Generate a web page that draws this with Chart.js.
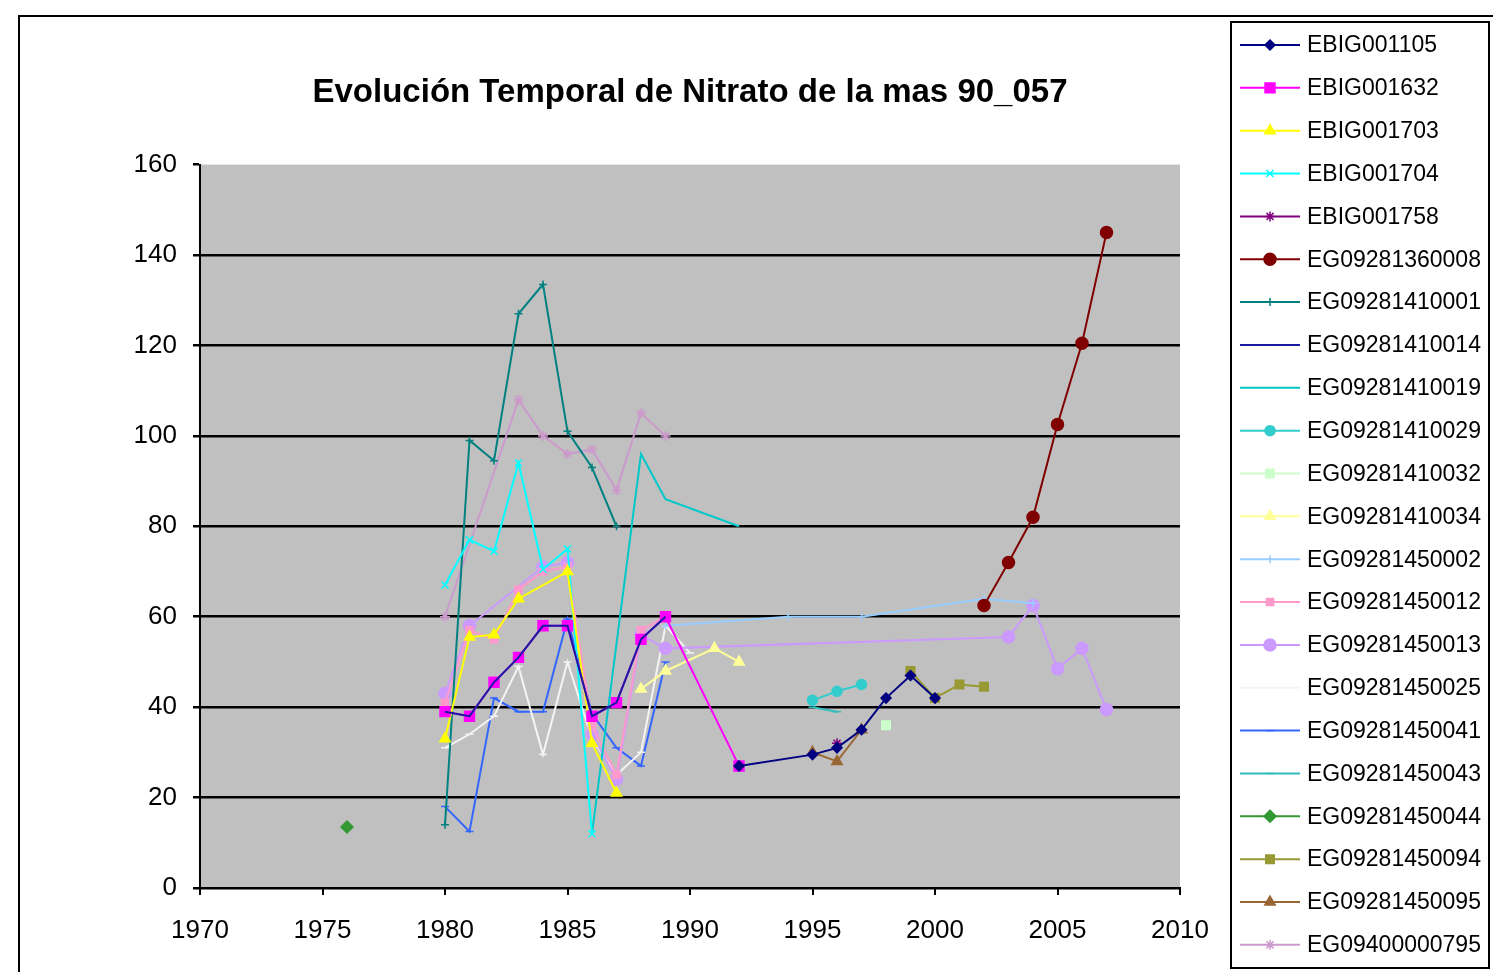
<!DOCTYPE html>
<html>
<head>
<meta charset="utf-8">
<script src="https://cdn.jsdelivr.net/npm/chart.js@4.4.1/dist/chart.umd.min.js"></script>
<style>
  html, body { margin: 0; padding: 0; background: #fff; }
  #wrap { width: 1493px; height: 972px; }
</style>
</head>
<body>
<div id="wrap"><canvas id="myChart" width="1493" height="972"></canvas></div>
<script>
// chart text + axes
const chartTitle = 'Evolución Temporal de Nitrato de la mas 90_057';
const xTicks = [1970, 1975, 1980, 1985, 1990, 1995, 2000, 2005, 2010];
const yTicks = [0, 20, 40, 60, 80, 100, 120, 140, 160];

// series names (legend order)
const seriesLabels = [
  'EBIG001105', 'EBIG001632', 'EBIG001703', 'EBIG001704', 'EBIG001758',
  'EG09281360008', 'EG09281410001', 'EG09281410014', 'EG09281410019',
  'EG09281410029', 'EG09281410032', 'EG09281410034', 'EG09281450002',
  'EG09281450012', 'EG09281450013', 'EG09281450025', 'EG09281450041',
  'EG09281450043', 'EG09281450044', 'EG09281450094', 'EG09281450095',
  'EG09400000795'
];

// years and nitrate values, one pair per series
const years1105 = [1992, 1995, 1996, 1997, 1998, 1999, 2000];
const vals1105  = [27, 29.5, 31, 35, 42, 47, 42];
const years1632 = [1980, 1981, 1982, 1983, 1984, 1985, 1986, 1987, 1988, 1989, 1992];
const vals1632  = [39, 38, 45.5, 51, 58, 58, 38, 41, 55, 60, 27];
const years1703 = [1980, 1981, 1982, 1983, 1985, 1986, 1987];
const vals1703  = [33, 55.5, 56, 64, 70, 32, 21];
const years1704 = [1980, 1981, 1982, 1983, 1984, 1985, 1986];
const vals1704  = [67, 77, 74.5, 94, 70.5, 75, 12];
const years1758 = [1996];
const vals1758  = [32];
const years360008 = [2002, 2003, 2004, 2005, 2006, 2007];
const vals360008  = [62.5, 72, 82, 102.5, 120.5, 145];
const years410001 = [1980, 1981, 1982, 1983, 1984, 1985, 1986, 1987];
const vals410001  = [14, 99, 94.5, 127, 133.5, 101, 93, 80];
const years410014 = [1980, 1981, 1982, 1983, 1984, 1985, 1986, 1987, 1988, 1989];
const vals410014  = [39, 38, 45.5, 51, 58, 58, 38, 41, 55, 60];
const years410019 = [1986, 1988, 1989, 1992];
const vals410019  = [12, 96, 86, 80];
const years410029 = [1995, 1996, 1997];
const vals410029  = [41.5, 43.5, 45];
const years410032 = [1998];
const vals410032  = [36];
const years410034 = [1988, 1989, 1991, 1992];
const vals410034  = [44, 48, 53, 50];
const years450002 = [1989, 1994, 1997, 2002, 2004];
const vals450002  = [58, 60, 60, 64, 63];
const years450012 = [1980, 1981, 1982, 1983, 1984, 1985, 1986, 1987, 1988, 1989];
const vals450012  = [41, 57, 55, 66, 70, 71, 36, 25, 57, 60];
const years450013 = [1980, 1981, 1984, 1985, 1986, 1987, 1988, 1989, 2003, 2004, 2005, 2006, 2007];
const vals450013  = [43, 58, 71, 72, 34, 24, 56, 53, 55.5, 62.5, 48.5, 53, 39.5];
const years450025 = [1980, 1981, 1982, 1983, 1984, 1985, 1986, 1987, 1988, 1989, 1990];
const vals450025  = [31, 34, 38, 49, 29.5, 50, 33, 25, 30, 58, 52];
const years450041 = [1980, 1981, 1982, 1983, 1984, 1985, 1986, 1987, 1988, 1989];
const vals450041  = [18, 12.5, 42, 39, 39, 59.5, 38.5, 31, 27, 50];
const years450043 = [1995, 1996];
const vals450043  = [40, 39];
const years450044 = [1976];
const vals450044  = [13.5];
const years450094 = [1999, 2000, 2001, 2002];
const vals450094  = [48, 42, 45, 44.5];
const years450095 = [1995, 1996, 1997];
const vals450095  = [30, 28, 35];
const years000795 = [1980, 1983, 1984, 1985, 1986, 1987, 1988, 1989];
const vals000795  = [60, 108, 100, 96, 97, 88, 105, 100];

const seriesYears = [years1105, years1632, years1703, years1704, years1758,
  years360008, years410001, years410014, years410019, years410029, years410032,
  years410034, years450002, years450012, years450013, years450025, years450041,
  years450043, years450044, years450094, years450095, years000795];
const seriesValues = [vals1105, vals1632, vals1703, vals1704, vals1758,
  vals360008, vals410001, vals410014, vals410019, vals410029, vals410032,
  vals410034, vals450002, vals450012, vals450013, vals450025, vals450041,
  vals450043, vals450044, vals450094, vals450095, vals000795];

// look of each series
const lineColors = ['#000080', '#ff00ff', '#ffff00', '#00ffff', '#800080',
  '#800000', '#008080', '#1a1aa0', '#00c8c8', '#33cccc', '#ccffcc',
  '#ffff99', '#99ccff', '#ff99cc', '#cc99ff', '#f4f4f4', '#3366ff',
  '#33bbbb', '#339933', '#999933', '#996633', '#cc99cc'];
const markerStyles = ['rectRot', 'rect', 'triangle', 'crossRot', 'star',
  'circle', 'cross', false, false, 'circle', 'rect',
  'triangle', 'cross', 'rect', 'circle', 'line', 'line',
  'line', 'rectRot', 'rect', 'triangle', 'star'];
const markerSizes = [5, 7, 6, 5, 5, 6, 4, 0, 0, 5, 6, 6, 4, 5, 6, 4, 4, 4, 6, 6, 6, 5];

const FONT = '"Liberation Sans", Arial, sans-serif';

let datasets = seriesLabels.map((name, i) => ({
  label: name,
  data: seriesYears[i].map((yr, j) => ({x: yr, y: seriesValues[i][j]})),
  borderColor: lineColors[i],
  backgroundColor: lineColors[i],
  borderWidth: 2,
  pointStyle: markerStyles[i],
  pointRadius: markerSizes[i],
  pointBorderWidth: 1.5,
  tension: 0,
  // the dark line runs over the magenta squares in the original
  order: name === 'EG09281410014' ? -1 : 0
}));

const framePlugin = {
  id: 'frame',
  beforeDraw(chart) {
    const ctx = chart.ctx, a = chart.chartArea;
    ctx.save();
    ctx.fillStyle = '#fff';
    ctx.fillRect(0, 0, chart.width, chart.height);
    ctx.fillStyle = '#c0c0c0';
    ctx.fillRect(a.left, a.top, a.right - a.left, a.bottom - a.top);
    ctx.strokeStyle = '#000';
    ctx.lineWidth = 2;
    ctx.strokeRect(19, 16, chart.width, chart.height);
    ctx.restore();
  },
  afterDraw(chart) {
    // Excel-like legend: line with marker, then name
    const ctx = chart.ctx;
    ctx.save();
    ctx.fillStyle = '#fff';
    ctx.fillRect(1231, 22, 258, 946);
    ctx.strokeStyle = '#000';
    ctx.lineWidth = 2;
    ctx.strokeRect(1231, 22, 258, 946);
    ctx.font = '23px ' + FONT;
    ctx.textBaseline = 'middle';
    chart.data.datasets.forEach((ds, i) => {
      const y = 45 + i * 42.85;
      ctx.strokeStyle = ds.borderColor;
      ctx.lineWidth = 2;
      ctx.beginPath();
      ctx.moveTo(1240, y);
      ctx.lineTo(1300, y);
      ctx.stroke();
      if (ds.pointStyle && Chart.helpers && Chart.helpers.drawPoint) {
        ctx.fillStyle = ds.backgroundColor;
        ctx.strokeStyle = ds.borderColor;
        ctx.lineWidth = 1.5;
        Chart.helpers.drawPoint(ctx, {pointStyle: ds.pointStyle, radius: ds.pointRadius, rotation: 0, borderWidth: 1.5}, 1270, y);
      }
      ctx.fillStyle = '#000';
      ctx.fillText(ds.label, 1307, y + 1);
    });
    ctx.restore();
  }
};

const config = {
  type: 'line',
  data: {datasets: datasets},
  options: {
    responsive: false,
    animation: false,
    events: [],
    layout: {padding: {left: 0, right: 313, top: 0, bottom: 0}},
    plugins: {
      legend: {display: false},
      tooltip: {enabled: false},
      title: {
        display: true,
        text: chartTitle,
        fullSize: false,
        color: '#000',
        font: {family: FONT, size: 33, weight: 'bold'},
        padding: {top: 73, bottom: 52}
      }
    },
    scales: {
      x: {
        type: 'linear',
        min: xTicks[0],
        max: xTicks[xTicks.length - 1],
        afterBuildTicks: s => { s.ticks = xTicks.map(v => ({value: v})); },
        afterFit: s => { s.height = 84; },
        ticks: {
          color: '#000',
          font: {family: FONT, size: 26},
          padding: 20,
          maxRotation: 0,
          callback: v => String(v)
        },
        grid: {drawOnChartArea: false, color: '#000', tickLength: 7, lineWidth: 2},
        border: {color: '#000', width: 2}
      },
      y: {
        min: yTicks[0],
        max: yTicks[yTicks.length - 1],
        afterBuildTicks: s => { s.ticks = yTicks.map(v => ({value: v})); },
        afterFit: s => { s.width = 200; },
        ticks: {
          color: '#000',
          font: {family: FONT, size: 26},
          padding: 16
        },
        grid: {
          color: c => (c.tick && c.tick.value === 160) ? 'rgba(0,0,0,0)' : '#000',
          tickColor: '#000',
          tickLength: 7,
          lineWidth: 2.5
        },
        border: {color: '#000', width: 2}
      }
    }
  },
  plugins: [framePlugin]
};

let chart = new Chart(document.getElementById('myChart'), config);
</script>
</body>
</html>
